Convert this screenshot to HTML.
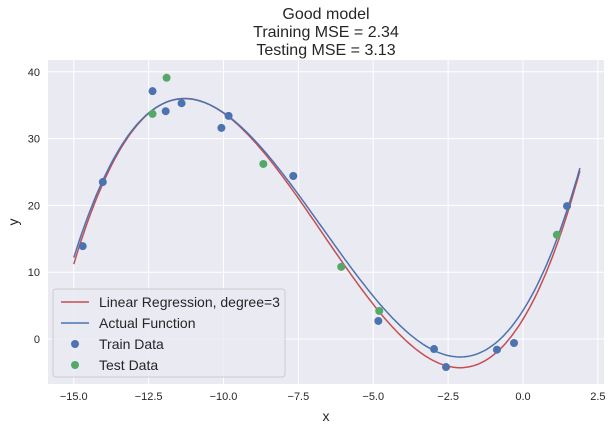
<!DOCTYPE html>
<html><head><meta charset="utf-8"><style>
body{margin:0;background:#fff;font-family:"Liberation Sans",sans-serif}
</style></head><body>
<svg id="chart" width="612" height="430" xmlns="http://www.w3.org/2000/svg" font-family="Liberation Sans, sans-serif">
<g fill="#262626" font-size="16" text-anchor="middle">
<text x="326" y="19">Good model</text>
<text x="326" y="37">Training MSE = 2.34</text>
<text x="326" y="55">Testing MSE = 3.13</text>
</g>
<rect x="48" y="60" width="556" height="324" fill="#eaeaf2"/>
<g id="grid"></g><g id="ticks"></g>
<g id="lines"></g><g id="points"></g>
<text x="326" y="421" font-size="14" text-anchor="middle" fill="#262626">x</text>
<text x="18" y="222" font-size="14" text-anchor="middle" fill="#262626" transform="rotate(-90 18 222)">y</text>
<g>
<rect x="53" y="289" width="232" height="88" rx="3" fill="#eaeaf2" fill-opacity="0.8" stroke="#ccc"/>
<line x1="61" y1="302" x2="89" y2="302" stroke="#c44e52" stroke-width="1.5"/>
<text x="99" y="307" font-size="14" fill="#262626">Linear Regression, degree=3</text>
<line x1="61" y1="323" x2="89" y2="323" stroke="#4c72b0" stroke-width="1.5"/>
<text x="99" y="328" font-size="14" fill="#262626">Actual Function</text>
<circle cx="75" cy="344" r="4" fill="#4c72b0"/>
<text x="99" y="349" font-size="14" fill="#262626">Train Data</text>
<circle cx="75" cy="365" r="4" fill="#55a868"/>
<text x="99" y="370" font-size="14" fill="#262626">Test Data</text>
</g>
</svg>
<script>
const xTicks=[-15,-12.5,-10,-7.5,-5,-2.5,0,2.5];
const xTickLabels=["\u221215.0","\u221212.5","\u221210.0","\u22127.5","\u22125.0","\u22122.5","0.0","2.5"];
const yTicks=[0,10,20,30,40];
const yTickLabels=["0","10","20","30","40"];
const actualCoef=[0.298,11.3,2.1,4.27];
const regCoef=[0.3106,11.3,2.1,2.96];
const trainX=[-14.7,-14.03,-12.37,-11.93,-11.4,-10.07,-9.83,-7.67,-4.83,-2.97,-2.57,-0.87,-0.3,1.47];
const trainY=[13.9,23.5,37.1,34.1,35.3,31.6,33.4,24.4,2.7,-1.5,-4.2,-1.6,-0.6,19.9];
const testX=[-12.37,-11.9,-8.67,-6.07,-4.8,1.13];
const testY=[33.7,39.1,26.2,10.8,4.2,15.6];
const xs=x=>523+x*29.95, ys=y=>339-y*6.68;
const NS="http://www.w3.org/2000/svg";
function mk(p,t,a){const e=document.createElementNS(NS,t);for(const k in a)e.setAttribute(k,a[k]);document.getElementById(p).appendChild(e);return e;}
xTicks.forEach((v,i)=>{
const l=mk('grid','line',{x1:xs(v),x2:xs(v),y1:60,y2:384,stroke:'#fff','stroke-width':1});


const t=mk('ticks','text',{x:xs(v),y:400,'font-size':11,'text-anchor':'middle',fill:'#262626'});t.textContent=xTickLabels[i];


});
yTicks.forEach((v,i)=>{
const l=mk('grid','line',{x1:48,x2:604,y1:ys(v),y2:ys(v),stroke:'#fff','stroke-width':1});


const t=mk('ticks','text',{x:40,y:ys(v)+4,'font-size':11,'text-anchor':'end',fill:'#262626'});t.textContent=yTickLabels[i];


});
function cubic(c,x){const[a,p,q,k]=c;return a*(x*x*x/3+(p+q)/2*x*x+p*q*x)+k;}
function curve(c,col,name){let d='';for(let i=0;i<=200;i++){const x=-15+i*(16.9/200);d+=(i?'L':'M')+xs(x).toFixed(1)+','+ys(cubic(c,x)).toFixed(1);}
const p=mk('lines','path',{d:d,fill:'none',stroke:col,'stroke-width':1.5});

}
curve(regCoef,'#c44e52','regression-line');
curve(actualCoef,'#4c72b0','actual-function-line');
trainX.forEach((x,i)=>{const c=mk('points','circle',{cx:xs(x),cy:ys(trainY[i]),r:4,fill:'#4c72b0'});

});
testX.forEach((x,i)=>{const c=mk('points','circle',{cx:xs(x),cy:ys(testY[i]),r:4,fill:'#55a868'});

});
</script>
</body></html>
